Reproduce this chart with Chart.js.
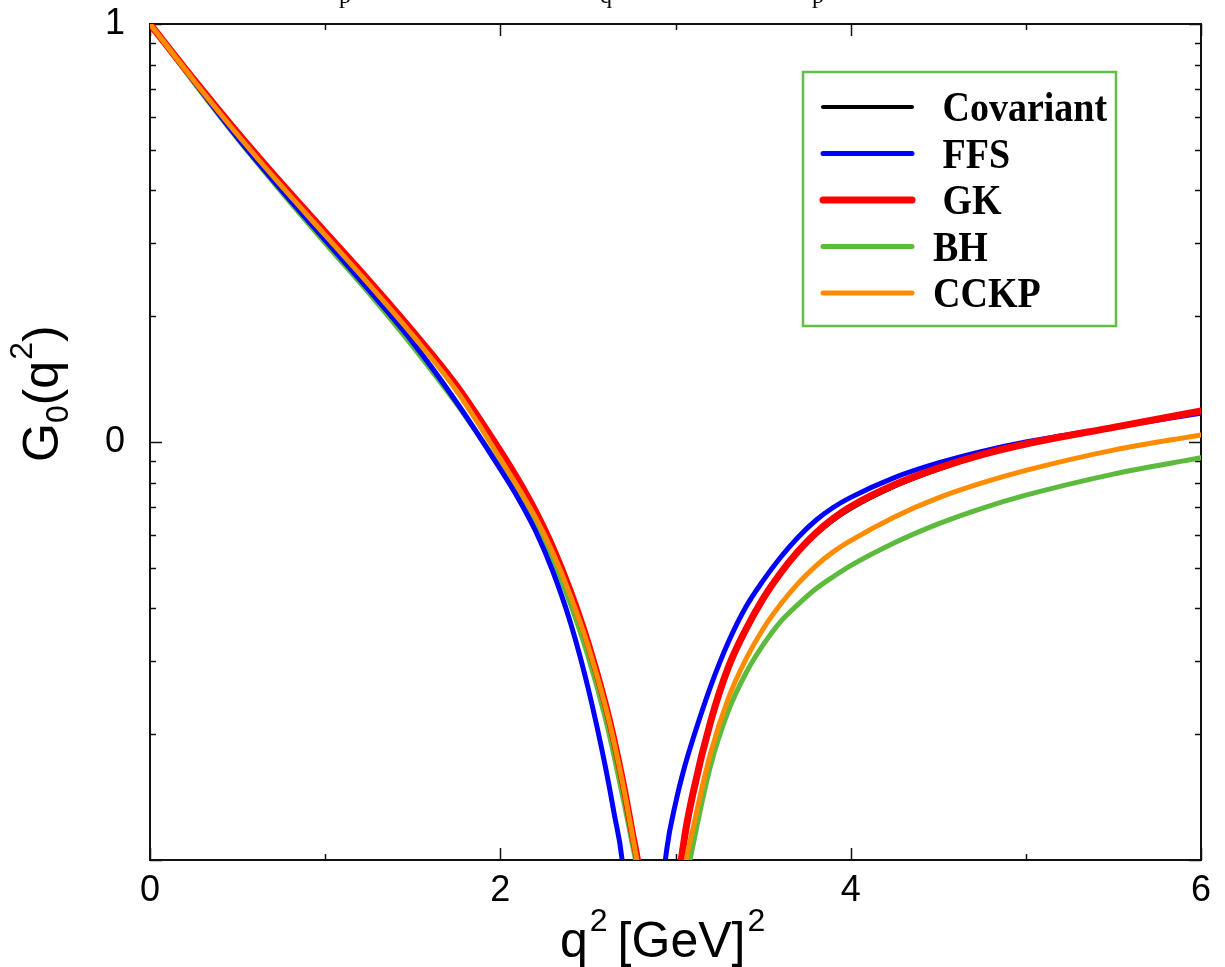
<!DOCTYPE html>
<html>
<head>
<meta charset="utf-8">
<script src="https://cdn.jsdelivr.net/npm/chart.js@4.4.1/dist/chart.umd.min.js"></script>
<style>
  html, body { margin: 0; padding: 0; background: #fff; }
  canvas { display: block; }
</style>
</head>
<body>
<canvas id="chart" width="1225" height="967"></canvas>
<script>
// q^2 grid [GeV^2], shared by all models
const q2 = [0, 0.25, 0.5, 0.75, 1, 1.25, 1.5, 1.75, 2, 2.1, 2.2, 2.3, 2.4, 2.5, 2.6, 2.65, 2.7, 2.75, 2.8, 2.85,
            2.9, 2.95, 3, 3.05, 3.1, 3.2, 3.3, 3.4, 3.5, 3.6, 3.7, 3.8, 3.9, 4, 4.25, 4.5, 4.75, 5, 5.5, 6];

// |G0(q^2)|, one list per model
const covariant = [1, 0.7346, 0.5463, 0.4130, 0.3152, 0.2405, 0.1819, 0.1344, 0.0933, 0.0798, 0.0671, 0.0551,
                   0.0434, 0.0328, 0.02344, 0.01916, 0.01522, 0.01175, 0.00881, 0.0050, 0.0013, 0.0033, 0.0072,
                   0.01072, 0.0141, 0.02104, 0.02844, 0.0350, 0.0416, 0.0480, 0.0541, 0.0597, 0.0647, 0.0690,
                   0.0780, 0.0857, 0.0925, 0.0982, 0.1079, 0.1183];
const ffs = [1, 0.7291, 0.5341, 0.4007, 0.3041, 0.2308, 0.1731, 0.1245, 0.0861, 0.0736, 0.0614, 0.0490,
             0.0370, 0.0259, 0.0167, 0.0129, 0.00956, 0.0045, 0.0008, 0.0025, 0.0065, 0.0106, 0.01365,
             0.0166, 0.0195, 0.0260, 0.0331, 0.0402, 0.0466, 0.0530, 0.0592, 0.0649, 0.0697, 0.0737,
             0.0822, 0.0891, 0.0950, 0.1000, 0.1084, 0.1172];
const gk = [1, 0.7368, 0.5493, 0.4155, 0.3178, 0.2431, 0.1839, 0.1363, 0.0951, 0.0813, 0.0683, 0.0558,
            0.0439, 0.0331, 0.02357, 0.01927, 0.0153, 0.0118, 0.00886, 0.0048, 0.0010, 0.0035, 0.0075,
            0.0112, 0.01445, 0.0214, 0.0288, 0.0355, 0.0422, 0.0486, 0.0548, 0.0605, 0.0656, 0.0700,
            0.0790, 0.0866, 0.0933, 0.0989, 0.1084, 0.1186];
const bh = [1, 0.7245, 0.5313, 0.3964, 0.2991, 0.2270, 0.1693, 0.1234, 0.0871, 0.0752, 0.0635, 0.0522,
            0.0410, 0.0308, 0.0218, 0.0177, 0.0141, 0.0111, 0.0085, 0.0052, 0.0018, 0.0016, 0.0050,
            0.0083, 0.01084, 0.0168, 0.02265, 0.0279, 0.0327, 0.0372, 0.0409, 0.0445, 0.0476, 0.0506,
            0.0574, 0.0637, 0.0694, 0.0746, 0.0838, 0.0917];
const cckp = [1, 0.7328, 0.5433, 0.4098, 0.3126, 0.2384, 0.1799, 0.1326, 0.0912, 0.0780, 0.0661, 0.0543,
              0.0429, 0.0326, 0.0233, 0.01905, 0.01514, 0.01168, 0.00876, 0.0055, 0.0022, 0.0015, 0.0055,
              0.0093, 0.01189, 0.0180, 0.02427, 0.0301, 0.0357, 0.0409, 0.0459, 0.0505, 0.0546, 0.0581,
              0.0662, 0.0735, 0.0798, 0.0855, 0.0956, 0.104];

const seriesLabels = [' Covariant', ' FFS', ' GK', 'BH', 'CCKP'];

// axis ticks
const xTicks = [0, 1, 2, 3, 4, 5, 6];
const xMajor = [0, 2, 4, 6];
const yMajor = [0.01, 0.1, 1];
const yMajorLabels = ['', '0', '1'];
const yTicks = [0.01, 0.1].flatMap(d => [1, 2, 3, 4, 5, 6, 7, 8, 9].map(k => +(k * d).toFixed(3))).concat([1]);

const pts = vals => q2.map((q, i) => ({x: q, y: vals[i]}));

function drawRich(ctx, parts, x, y) {
    let cx = x;
    parts.forEach(p => {
        ctx.font = p.size + 'px "Liberation Sans", Arial, sans-serif';
        ctx.fillText(p.t, cx, y + (p.dy || 0));
        cx += ctx.measureText(p.t).width + (p.gap || 0);
    });
}

const frameTicks = {
    id: 'frameTicks',
    beforeDatasetsDraw(chart) {
        const {ctx, chartArea: a, scales: {x, y}} = chart;
        ctx.save();
        ctx.strokeStyle = '#111';
        ctx.lineWidth = 2;
        ctx.strokeRect(a.left, a.top, a.right - a.left, a.bottom - a.top);
        ctx.lineWidth = 1.5;
        ctx.beginPath();
        y.ticks.forEach(t => {
            const py = Math.round(y.getPixelForValue(t.value)) + 0.5;
            const len = yMajor.includes(t.value) ? 12 : 6;
            ctx.moveTo(a.left, py); ctx.lineTo(a.left + len, py);
            ctx.moveTo(a.right, py); ctx.lineTo(a.right - len, py);
        });
        x.ticks.forEach(t => {
            const px = Math.round(x.getPixelForValue(t.value)) + 0.5;
            const len = xMajor.includes(t.value) ? 12 : 6;
            ctx.moveTo(px, a.bottom); ctx.lineTo(px, a.bottom - len);
            ctx.moveTo(px, a.top); ctx.lineTo(px, a.top + len);
        });
        ctx.stroke();
        ctx.restore();
    },
    afterDraw(chart) {
        const ctx = chart.ctx;
        ctx.save();
        ctx.fillStyle = '#000';
        ctx.textBaseline = 'alphabetic';

        // cropped title remnants at the top edge
        ctx.font = '24px "Liberation Serif", serif';
        ctx.textAlign = 'center';
        ctx.fillText('p', 345, 3);
        ctx.fillText('q', 606, 3);
        ctx.fillText('p', 818, 3);
        ctx.textAlign = 'left';

        // x axis title
        drawRich(ctx, [
            {t: 'q', size: 50, gap: 2},
            {t: '2', size: 32, dy: -26, gap: 10},
            {t: '[GeV]', size: 50, gap: 2},
            {t: '2', size: 32, dy: -26}
        ], 560, 957);

        // y axis title (rotated)
        ctx.save();
        ctx.translate(58, 462);
        ctx.rotate(-Math.PI / 2);
        drawRich(ctx, [
            {t: 'G', size: 50},
            {t: '0', size: 32, dy: 10},
            {t: '(q', size: 50, gap: 1},
            {t: '2', size: 32, dy: -26},
            {t: ')', size: 50}
        ], 0, 0);
        ctx.restore();

        // legend box
        ctx.strokeStyle = '#62bd45';
        ctx.lineWidth = 2.5;
        ctx.strokeRect(803, 72, 313, 254);
        chart.data.datasets.forEach((ds, i) => {
            const cy = 107 + i * 46.5;
            ctx.strokeStyle = ds.borderColor;
            ctx.lineWidth = Math.max(ds.borderWidth, 4);
            ctx.lineCap = 'round';
            ctx.beginPath();
            ctx.moveTo(823, cy);
            ctx.lineTo(912, cy);
            ctx.stroke();
            ctx.save();
            ctx.translate(933, cy + 14);
            ctx.scale(1, 1.12);
            ctx.font = 'bold 38px "Liberation Serif", "Times New Roman", serif';
            ctx.fillText(ds.label, 0, 0);
            ctx.restore();
        });
        ctx.restore();
    }
};

const colors = ['#000000', '#0000ff', '#ff0000', '#5cbb3c', '#ff8c00'];
const widths = [3, 5, 7, 5, 5];
const orders = [2, 3, 1, 4, 0];
const seriesData = [covariant, ffs, gk, bh, cckp];

new Chart(document.getElementById('chart'), {
    type: 'line',
    data: {
        datasets: seriesData.map((vals, i) => ({
            label: seriesLabels[i],
            data: pts(vals),
            borderColor: colors[i],
            backgroundColor: colors[i],
            borderWidth: widths[i],
            order: orders[i],
            fill: false
        }))
    },
    options: {
        responsive: false,
        animation: false,
        layout: {padding: {top: 24, right: 24, left: 0, bottom: 0}},
        plugins: {legend: {display: false}, tooltip: {enabled: false}},
        elements: {
            point: {radius: 0},
            line: {
                cubicInterpolationMode: 'monotone',
                capBezierPoints: false,
                borderCapStyle: 'round',
                borderJoinStyle: 'round'
            }
        },
        scales: {
            x: {
                type: 'linear',
                min: 0,
                max: 6,
                grid: {display: false, drawTicks: false},
                border: {display: false},
                afterBuildTicks: s => { s.ticks = xTicks.map(v => ({value: v})); },
                afterFit: s => { s.height = 107; s.paddingLeft = 0; s.paddingRight = 0; },
                ticks: {
                    autoSkip: false,
                    maxRotation: 0,
                    padding: 9,
                    color: '#000',
                    font: {family: '"Liberation Sans", Arial, sans-serif', size: 36},
                    callback: v => xMajor.includes(v) ? String(v) : ''
                }
            },
            y: {
                type: 'logarithmic',
                min: 0.01,
                max: 1,
                grid: {display: false, drawTicks: false},
                border: {display: false},
                afterBuildTicks: s => { s.ticks = yTicks.map(v => ({value: v})); },
                afterFit: s => { s.width = 150; s.paddingTop = 0; s.paddingBottom = 0; },
                ticks: {
                    autoSkip: false,
                    padding: 25,
                    color: '#000',
                    font: {family: '"Liberation Sans", Arial, sans-serif', size: 36},
                    callback: v => {
                        const i = yMajor.findIndex(m => Math.abs(m - v) < 1e-9);
                        return i >= 0 ? yMajorLabels[i] : '';
                    }
                }
            }
        }
    },
    plugins: [frameTicks]
});
</script>
</body>
</html>
